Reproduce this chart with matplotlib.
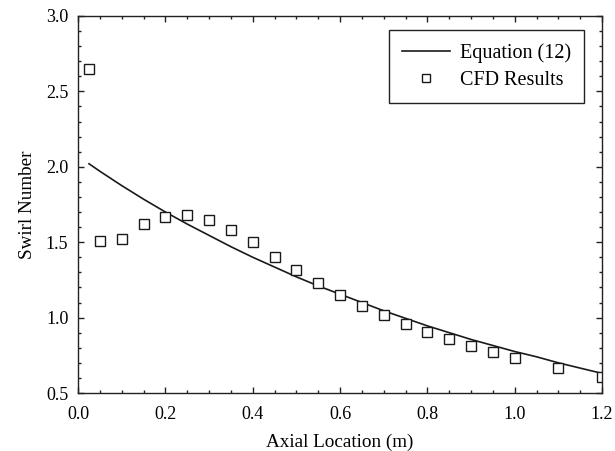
import matplotlib
matplotlib.use("Agg")
import matplotlib.pyplot as plt
from matplotlib.ticker import MultipleLocator

plt.rcParams['font.family'] = ['Liberation Serif', 'DejaVu Serif']

eq_x = [0.025, 0.05, 0.10, 0.15, 0.20, 0.25, 0.30, 0.35, 0.40, 0.45, 0.50, 0.55,
        0.60, 0.65, 0.70, 0.75, 0.80, 0.85, 0.90, 0.95, 1.00, 1.05, 1.10, 1.15, 1.20]
eq_y = [2.02, 1.97, 1.875, 1.785, 1.70, 1.62, 1.545, 1.47, 1.40, 1.335, 1.27, 1.21,
        1.155, 1.10, 1.045, 0.995, 0.945, 0.90, 0.855, 0.815, 0.775, 0.74, 0.70, 0.665, 0.63]

cfd_x = [0.025, 0.05, 0.10, 0.15, 0.20, 0.25, 0.30, 0.35, 0.40, 0.45, 0.50, 0.55,
         0.60, 0.65, 0.70, 0.75, 0.80, 0.85, 0.90, 0.95, 1.00, 1.10, 1.20]
cfd_y = [2.65, 1.51, 1.52, 1.62, 1.67, 1.68, 1.645, 1.58, 1.50, 1.40, 1.315, 1.23,
         1.15, 1.08, 1.02, 0.96, 0.905, 0.855, 0.81, 0.77, 0.73, 0.665, 0.605]

xtick_vals = [0.0, 0.2, 0.4, 0.6, 0.8, 1.0, 1.2]
xtick_labels = ['0.0', '0.2', '0.4', '0.6', '0.8', '1.0', '1.2']

fig = plt.figure(figsize=(6.15, 4.51), dpi=100)
ax = fig.add_axes([0.127, 0.1286, 0.852, 0.836])

ax.plot(eq_x, eq_y, color='#1a1a1a', lw=1.2, label='Equation (12)')
ax.plot(cfd_x, cfd_y, ls='none', marker='s', ms=6.6, mfc='white', mec='#1a1a1a',
        mew=1.0, label='CFD Results')

ax.set_xlim(0, 1.2)
ax.set_ylim(0.5, 3.0)
ax.set_xticks(xtick_vals)
ax.set_xticklabels(xtick_labels)
ax.xaxis.set_minor_locator(MultipleLocator(0.05))
ax.yaxis.set_major_locator(MultipleLocator(0.5))
ax.yaxis.set_minor_locator(MultipleLocator(0.1))
ax.tick_params(which='both', direction='in', top=True, right=True, labelsize=13,
               color='#222222', width=1.0)
ax.tick_params(axis='x', which='both', pad=9)
ax.tick_params(axis='y', which='both', pad=7)
ax.tick_params(which='major', length=4)
ax.tick_params(which='minor', length=2.5)
for s in ax.spines.values():
    s.set_linewidth(1.0)
    s.set_color('#222222')

ax.set_xlabel('Axial Location (m)', fontsize=13.8, labelpad=8)
ax.set_ylabel('Swirl Number', fontsize=13.8, labelpad=7)

leg = ax.legend(loc='upper right', bbox_to_anchor=(0.9656, 0.9629), borderaxespad=0,
                fontsize=14.5, frameon=True, fancybox=False, edgecolor='#222222',
                framealpha=1, handlelength=2.35, markerscale=0.9, borderpad=0.65,
                labelspacing=0.4, handletextpad=0.5)
leg.get_frame().set_linewidth(1.0)

fig.savefig('out.png', dpi=100)
